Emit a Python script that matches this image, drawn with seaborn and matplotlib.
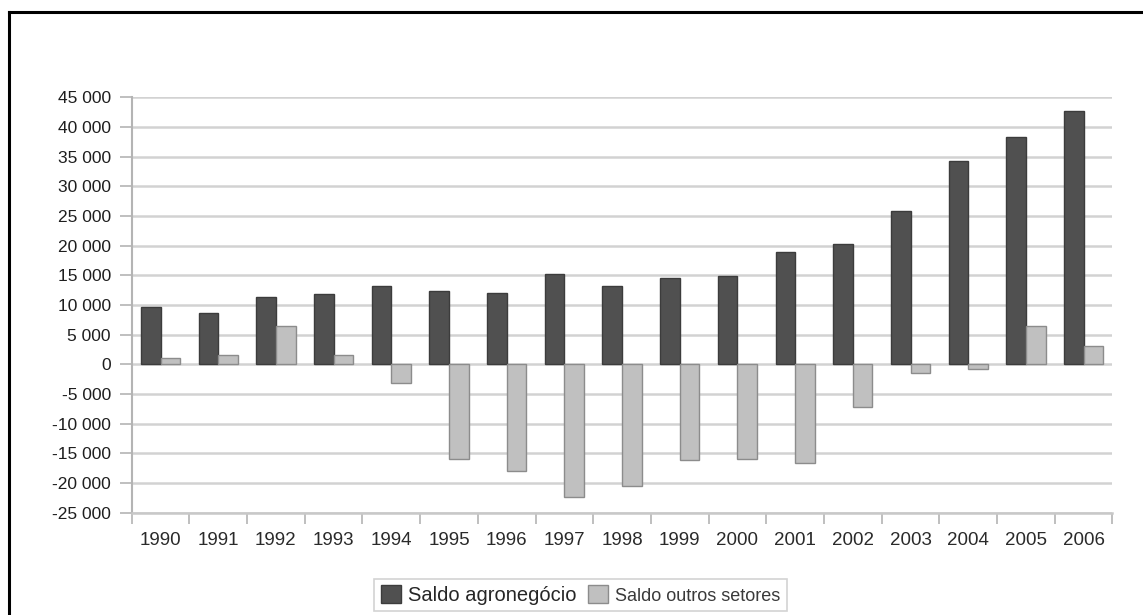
import matplotlib
matplotlib.use("Agg")
import matplotlib.pyplot as plt
import seaborn as sns
import pandas as pd
import numpy as np
from matplotlib.lines import Line2D

# Trade balance by year (US$ millions)
years = [str(y) for y in range(1990, 2007)]
saldo_agro = [9700, 8600, 11400, 11800, 13250, 12300, 12000, 15200, 13150,
              14500, 14900, 18900, 20200, 25900, 34300, 38300, 42700]
saldo_outros = [1100, 1500, 6400, 1500, -3200, -15900, -18000, -22400, -20450,
                -16200, -15900, -16600, -7200, -1450, -700, 6400, 3100]
series_names = ["Saldo agronegócio", "Saldo outros setores"]
y_ticks = list(range(-25000, 45001, 5000))

df = pd.DataFrame({
    "ano": years * 2,
    "valor": saldo_agro + saldo_outros,
    "serie": [series_names[0]] * len(years) + [series_names[1]] * len(years),
})

sns.set_theme(style="white")
plt.rcParams["font.family"] = ["Liberation Sans", "DejaVu Sans"]

fig = plt.figure(figsize=(11.43, 6.15), dpi=100)
ax = fig.add_axes([0.1152, 0.1663, 0.9733 - 0.1152, 0.8418 - 0.1663])

palette = {series_names[0]: "#505050", series_names[1]: "#c0c0c0"}
sns.barplot(data=df, x="ano", y="valor", hue="serie", order=years,
            hue_order=series_names, palette=palette, width=0.68,
            saturation=1, ax=ax, legend=False, zorder=3)

# bar outlines
edge = {0: "#3c3c3c", 1: "#8c8c8c"}
for i, cont in enumerate(ax.containers):
    for p in cont:
        p.set_edgecolor(edge[i])
        p.set_linewidth(1.0)

ax.set_ylim(-25000, 45000)
ax.set_xlim(-0.5, len(years) - 0.5)
ax.set_yticks(y_ticks)
ax.set_yticklabels([f"{v:,}".replace(",", " ") for v in y_ticks])
ax.set_xlabel("")
ax.set_ylabel("")

# horizontal gridlines
for v in y_ticks:
    ax.axhline(v, color="#d2d2d2", lw=1.8, zorder=1)

for s in ["top", "right"]:
    ax.spines[s].set_visible(False)
ax.spines["left"].set_color("#b4b4b4")
ax.spines["left"].set_linewidth(1.5)
ax.spines["bottom"].set_color("#c8c8c8")
ax.spines["bottom"].set_linewidth(1.8)

# ticks: y outward to the left, x at category boundaries
ax.tick_params(axis="y", which="major", length=9, width=1.2, color="#b4b4b4",
               left=True, labelsize=12.5, labelcolor="#1e1e1e", pad=6)
ax.tick_params(axis="x", which="major", length=0, labelsize=13.5,
               labelcolor="#2a2a2a", pad=14)
ax.set_xticks(np.arange(-0.5, len(years) + 0.5, 1.0), minor=True)
ax.tick_params(axis="x", which="minor", length=8, width=1.2, color="#b4b4b4",
               bottom=True)

# legend below the plot
handles = [
    plt.Rectangle((0, 0), 1, 1, facecolor="#505050", edgecolor="#3c3c3c"),
    plt.Rectangle((0, 0), 1, 1, facecolor="#c0c0c0", edgecolor="#8c8c8c"),
]
leg = fig.legend(handles, series_names, loc="center",
                 bbox_to_anchor=(0.508, 0.0325), bbox_transform=fig.transFigure,
                 ncol=2, frameon=True, fancybox=False, fontsize=14.5,
                 handlelength=1.0, handleheight=0.95, handletextpad=0.35,
                 columnspacing=0.6, borderpad=0.3, borderaxespad=0)
leg.get_frame().set_edgecolor("#c8c8c8")
leg.get_frame().set_linewidth(1.2)
leg.get_texts()[1].set_color("#3a3a3a")
leg.get_texts()[1].set_fontsize(13)

# outer frame (left and top edges)
fx0 = 9 / 1143
fy0 = 1 - 12 / 615
fig.add_artist(Line2D([fx0, fx0], [-0.01, fy0], transform=fig.transFigure,
                      color="black", lw=2.2, solid_capstyle="projecting"))
fig.add_artist(Line2D([fx0, 1.01], [fy0, fy0], transform=fig.transFigure,
                      color="black", lw=2.2, solid_capstyle="projecting"))

fig.savefig("out.png", dpi=100, facecolor="white")
